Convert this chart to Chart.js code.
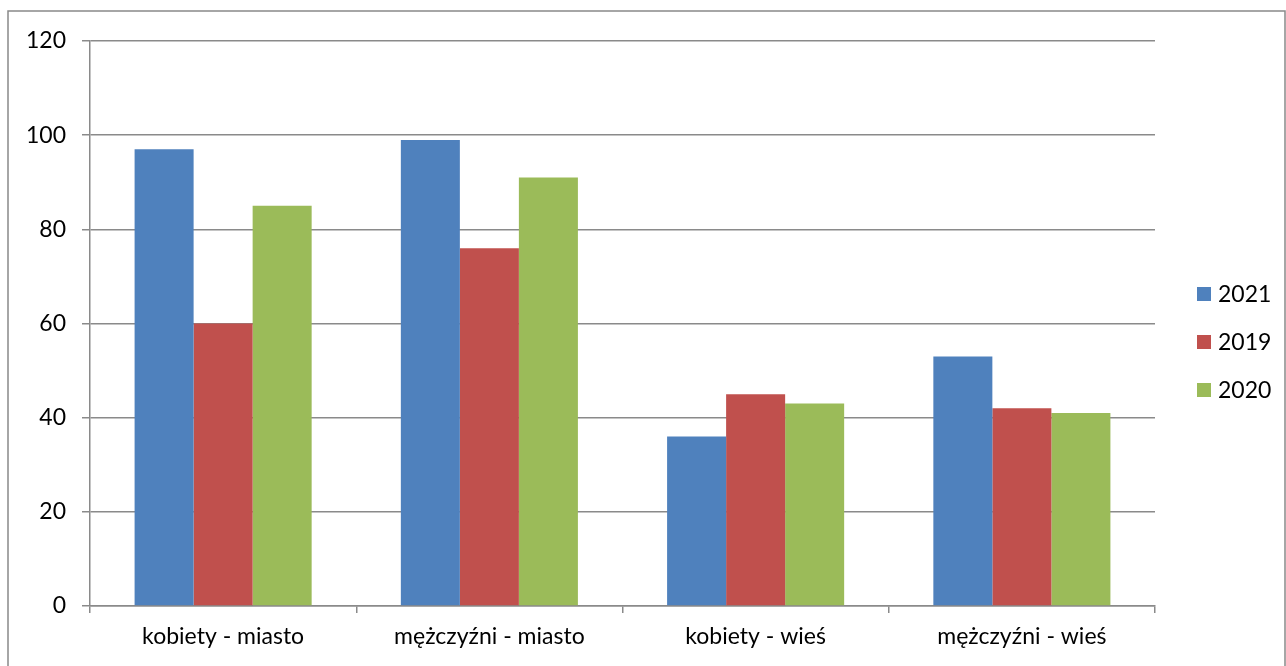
<!DOCTYPE html>
<html>
<head>
<meta charset="utf-8">
<script src="https://cdn.jsdelivr.net/npm/chart.js@4.4.0/dist/chart.umd.min.js"></script>
<style>
  html, body { margin: 0; padding: 0; background: #fff; }
  #wrap { width: 1286px; height: 666px; position: relative; }
</style>
</head>
<body>
<div id="wrap"><canvas id="chart"></canvas></div>
<script>
// data
const categories = ["kobiety - miasto", "mężczyźni - miasto", "kobiety - wieś", "mężczyźni - wieś"];
const seriesNames = ["2021", "2019", "2020"];
const values2021 = [97, 99, 36, 53];
const values2019 = [60, 76, 45, 42];
const values2020 = [85, 91, 43, 41];
const colors = ["#4F81BD", "#C0504D", "#9BBB59"];

const FONT = "Lato, 'Open Sans', sans-serif";
const FONT_SIZE = 23;

// frame round the whole picture + legend on the right
const framePlugin = {
  id: "frame",
  beforeDraw(chart) {
    const ctx = chart.ctx;
    ctx.save();
    ctx.fillStyle = "#fff";
    ctx.fillRect(0, 0, chart.width, chart.height);
    ctx.strokeStyle = "#898989";
    ctx.lineWidth = 1.5;
    ctx.strokeRect(8, 11, 1277, 700);
    ctx.restore();
  },
  afterDraw(chart) {
    const ctx = chart.ctx;
    ctx.save();
    ctx.font = FONT_SIZE + "px " + FONT;
    ctx.textBaseline = "middle";
    chart.data.datasets.forEach((ds, i) => {
      const y = 294 + i * 48;
      ctx.fillStyle = ds.backgroundColor;
      ctx.fillRect(1197, y - 7, 14, 14);
      ctx.fillStyle = "#000";
      ctx.fillText(ds.label, 1218, y + 1);
    });
    ctx.restore();
  }
};

const gridColor = "#8a8a8a";

new Chart(document.getElementById("chart"), {
  type: "bar",
  data: {
    labels: categories,
    datasets: [
      { label: seriesNames[0], data: values2021, backgroundColor: colors[0] },
      { label: seriesNames[1], data: values2019, backgroundColor: colors[1] },
      { label: seriesNames[2], data: values2020, backgroundColor: colors[2] }
    ]
  },
  options: {
    responsive: true,
    maintainAspectRatio: false,
    animation: false,
    layout: { padding: { left: 0, top: 41, right: 131, bottom: 0 } },
    datasets: {
      bar: { barPercentage: 1.0, categoryPercentage: 0.665 }
    },
    plugins: {
      legend: { display: false },
      tooltip: { enabled: false }
    },
    scales: {
      x: {
        grid: {
          offset: true,
          drawOnChartArea: false,
          color: gridColor,
          lineWidth: 1.5,
          tickLength: 7
        },
        border: { color: gridColor, width: 1.5 },
        ticks: {
          color: "#000",
          font: { family: FONT, size: FONT_SIZE },
          padding: 10,
          maxRotation: 0
        },
        afterFit(scale) { scale.height = 60; }
      },
      y: {
        min: 0,
        max: 120,
        ticks: {
          stepSize: 20,
          color: "#000",
          font: { family: FONT, size: FONT_SIZE },
          padding: 16
        },
        grid: {
          color: gridColor,
          lineWidth: 1.5,
          tickLength: 8
        },
        border: { color: gridColor, width: 1.5 },
        afterFit(scale) { scale.width = 90; }
      }
    }
  },
  plugins: [framePlugin]
});
</script>
</body>
</html>
